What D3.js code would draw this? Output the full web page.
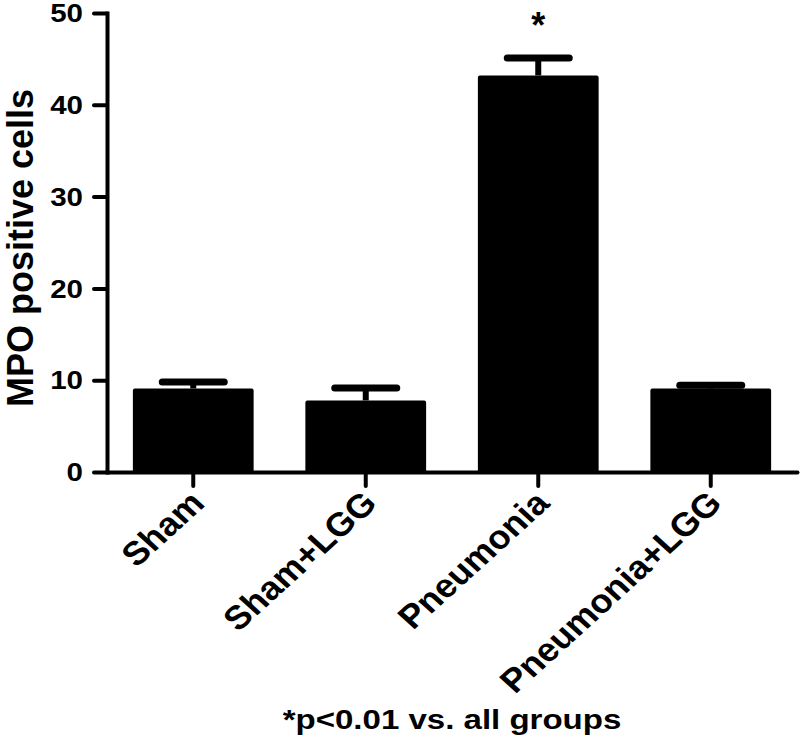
<!DOCTYPE html>
<html>
<head>
<meta charset="utf-8">
<script src="https://cdn.jsdelivr.net/npm/d3@7"></script>
<style>
  html, body { margin: 0; padding: 0; background: #fff; }
  svg { display: block; }
  text { font-family: "Liberation Sans", Arial, sans-serif; font-weight: bold; fill: #000; }
</style>
</head>
<body>
<svg id="chart" width="800" height="747"></svg>
<script>
// ---- data ----
const categories = ["Sham", "Sham+LGG", "Pneumonia", "Pneumonia+LGG"];
const means = [9.1, 7.8, 43.2, 9.1];
const sems = [0.7, 1.35, 1.9, 0.35];
const significant = [false, false, true, false];
const yTicks = [0, 10, 20, 30, 40, 50];
const yTitle = "MPO positive cells";
const footnote = "*p<0.01 vs. all groups";

// ---- layout ----
const svg = d3.select("#chart");
const plotLeft = 107, plotRight = 797, plotTop = 13, plotBottom = 472;
const stretch = 1.18;

const x = d3.scaleBand().domain(categories).range([plotLeft, plotRight])
  .paddingInner(0.3).paddingOuter(0.15);
const y = d3.scaleLinear().domain([0, 50]).range([plotBottom, plotTop]);

// bars
const sw = 4;
svg.append("g").selectAll("rect").data(categories).join("rect")
  .attr("x", d => x(d) + sw / 2)
  .attr("width", x.bandwidth() - sw)
  .attr("y", (d, i) => y(means[i]) + sw / 2)
  .attr("height", (d, i) => y(0) - y(means[i]) - sw / 2)
  .attr("fill", "#000").attr("stroke", "#000")
  .attr("stroke-width", sw).attr("stroke-linejoin", "round");

// error bars
const capHalf = 31;
const eg = svg.append("g").attr("stroke", "#000").attr("stroke-linecap", "round");
categories.forEach((c, i) => {
  const cx = x(c) + x.bandwidth() / 2;
  eg.append("line").attr("x1", cx).attr("x2", cx)
    .attr("y1", y(means[i])).attr("y2", y(means[i] + sems[i]))
    .attr("stroke-width", 6).attr("stroke-linecap", "butt");
  eg.append("line").attr("x1", cx - capHalf).attr("x2", cx + capHalf)
    .attr("y1", y(means[i] + sems[i])).attr("y2", y(means[i] + sems[i]))
    .attr("stroke-width", 7);
});

// significance markers
categories.forEach((c, i) => {
  if (!significant[i]) return;
  svg.append("text")
    .attr("x", x(c) + x.bandwidth() / 2)
    .attr("y", 38)
    .attr("text-anchor", "middle")
    .style("font-size", "36px")
    .text("*");
});

// y axis
const yAxis = svg.append("g").attr("transform", `translate(${plotLeft},0)`)
  .call(d3.axisLeft(y).tickValues(yTicks).tickSize(13).tickSizeOuter(0).tickFormat(d3.format("d")));
yAxis.select(".domain").attr("stroke-width", 4).attr("stroke-linecap", "square");
yAxis.selectAll(".tick line").attr("stroke-width", 4).attr("stroke-linecap", "round");
yAxis.selectAll(".tick text")
  .attr("x", 0).attr("dy", "0.35em")
  .attr("transform", `translate(-24,0) scale(${stretch},1)`)
  .style("font-size", "25px").style("font-family", null);

// x axis
const xAxis = svg.append("g").attr("transform", `translate(0,${plotBottom})`)
  .call(d3.axisBottom(x).tickSize(14).tickSizeOuter(0));
xAxis.select(".domain").attr("stroke-width", 4).attr("stroke-linecap", "round");
xAxis.selectAll(".tick line").attr("stroke-width", 4).attr("stroke-linecap", "round");
xAxis.selectAll(".tick text")
  .attr("x", 0).attr("y", 0).attr("dy", 0)
  .attr("text-anchor", "end")
  .attr("transform", "translate(13,33) scale(1.1,1) rotate(-45)")
  .style("font-size", "33px").style("font-family", null);

// y title
svg.append("text")
  .attr("transform", "translate(33,248) rotate(-90)")
  .attr("text-anchor", "middle")
  .style("font-size", "36px")
  .text(yTitle);

// footnote
svg.append("text")
  .attr("transform", `translate(452,729) scale(${stretch},1)`)
  .attr("text-anchor", "middle")
  .style("font-size", "28px")
  .text(footnote);
</script>
</body>
</html>
